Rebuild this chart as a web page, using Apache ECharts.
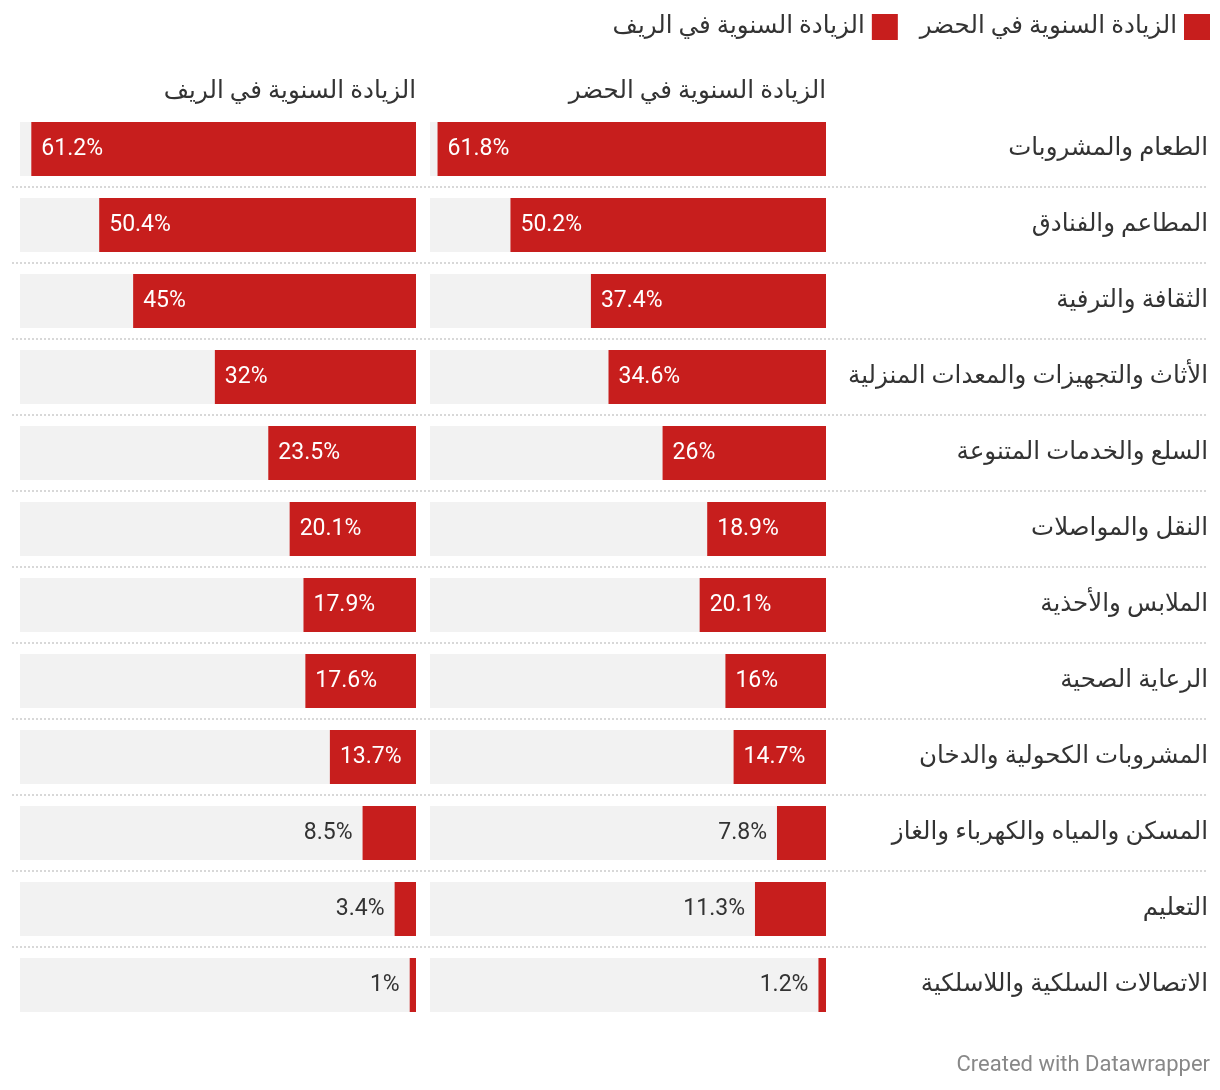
<!DOCTYPE html>
<html>
<head>
<meta charset="utf-8">
<style>html,body{margin:0;padding:0;background:#fff;}#c{width:1220px;height:1090px;}</style>
<script src="https://cdn.jsdelivr.net/npm/echarts@6/dist/echarts.min.js"></script>
</head>
<body>
<div id="c"></div>
<script>
var categories = [
  'الطعام والمشروبات',
  'المطاعم والفنادق',
  'الثقافة والترفية',
  'الأثاث والتجهيزات والمعدات المنزلية',
  'السلع والخدمات المتنوعة',
  'النقل والمواصلات',
  'الملابس والأحذية',
  'الرعاية الصحية',
  'المشروبات الكحولية والدخان',
  'المسكن والمياه والكهرباء والغاز',
  'التعليم',
  'الاتصالات السلكية واللاسلكية'
];
var urbanValues = [61.8, 50.2, 37.4, 34.6, 26, 18.9, 20.1, 16, 14.7, 7.8, 11.3, 1.2];
var ruralValues = [61.2, 50.4, 45, 32, 23.5, 20.1, 17.9, 17.6, 13.7, 8.5, 3.4, 1];
var urbanName = 'الزيادة السنوية في الحضر';
var ruralName = 'الزيادة السنوية في الريف';
var footerText = 'Created with Datawrapper';

var RED = '#c71e1d';
var FONT = 'Roboto, "Noto Sans", "DejaVu Sans", sans-serif';
var AR_SIZE = 24.5;

function toData(vals) {
  return vals.map(function (v) {
    var inside = v >= 12;
    return {
      value: v,
      label: inside
        ? { position: 'insideLeft', color: '#ffffff', distance: 10 }
        : { position: 'left', color: '#333333', distance: 10 }
    };
  });
}

function valueAxis(gi) {
  return {
    type: 'value', gridIndex: gi, min: 0, max: 63, inverse: true,
    axisLine: { show: false }, axisTick: { show: false },
    axisLabel: { show: false }, splitLine: { show: false }
  };
}

var chart = echarts.init(document.getElementById('c'), null, { renderer: 'canvas' });
chart.setOption({
  backgroundColor: '#ffffff',
  animation: false,
  textStyle: { fontFamily: FONT },
  title: [
    { text: urbanName, right: 394, top: 79, padding: 0, textStyle: { fontSize: AR_SIZE, fontWeight: 'normal', color: '#333', fontFamily: FONT } },
    { text: ruralName, right: 804, top: 79, padding: 0, textStyle: { fontSize: AR_SIZE, fontWeight: 'normal', color: '#333', fontFamily: FONT } },
    { text: footerText, right: 10, top: 1054, padding: 0, textStyle: { fontSize: 22, fontWeight: 'normal', color: '#888', fontFamily: FONT } }
  ],
  legend: {
    data: [ruralName, urbanName],
    right: 10, top: 14, padding: 0,
    align: 'right',
    icon: 'rect',
    itemWidth: 26, itemHeight: 26, itemGap: 22,
    textStyle: { fontSize: AR_SIZE, color: '#333', fontFamily: FONT, padding: [5, 2, 0, 0] }
  },
  grid: [
    { left: 430, right: 394, top: 111, height: 912 },
    { left: 20, right: 804, top: 111, height: 912 },
    { left: 12, right: 12, top: 187, height: 760 }
  ],
  xAxis: [
    valueAxis(0),
    valueAxis(1),
    { type: 'value', gridIndex: 2, min: 0, max: 1, show: false }
  ],
  yAxis: [
    {
      type: 'category', gridIndex: 0, data: categories, inverse: true, position: 'right',
      axisLine: { show: false }, axisTick: { show: false },
      axisLabel: { show: true, align: 'right', margin: 382, fontSize: AR_SIZE, color: '#333', fontFamily: FONT, padding: [5, 0, 0, 0] }
    },
    {
      type: 'category', gridIndex: 1, data: categories, inverse: true,
      axisLine: { show: false }, axisTick: { show: false }, axisLabel: { show: false }
    },
    {
      type: 'value', gridIndex: 2, min: 0, max: 10, interval: 1,
      axisLine: { show: false }, axisTick: { show: false }, axisLabel: { show: false },
      splitLine: { show: true, showMinLine: true, showMaxLine: true, lineStyle: { color: '#d8d8d8', width: 2, type: [2, 2] } }
    }
  ],
  series: [
    {
      name: urbanName, type: 'bar', xAxisIndex: 0, yAxisIndex: 0,
      data: toData(urbanValues), barWidth: 54,
      itemStyle: { color: RED },
      showBackground: true, backgroundStyle: { color: '#f2f2f2' },
      label: { show: true, formatter: '{c}%', fontSize: 23, fontFamily: FONT }
    },
    {
      name: ruralName, type: 'bar', xAxisIndex: 1, yAxisIndex: 1,
      data: toData(ruralValues), barWidth: 54,
      itemStyle: { color: RED },
      showBackground: true, backgroundStyle: { color: '#f2f2f2' },
      label: { show: true, formatter: '{c}%', fontSize: 23, fontFamily: FONT }
    }
  ]
});
</script>
</body>
</html>
